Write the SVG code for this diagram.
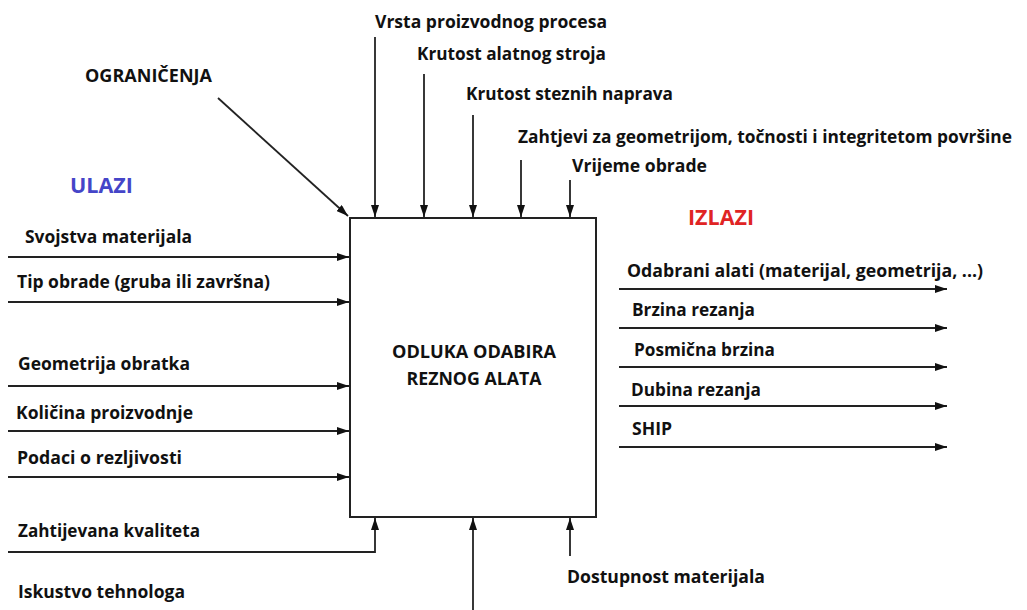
<svg xmlns="http://www.w3.org/2000/svg" width="1027" height="610" viewBox="0 0 1027 610">
<style>
text{font-family:"Open Sans","Liberation Sans",sans-serif;font-weight:bold;font-size:18px;fill:#111}
.ln{stroke:#222;stroke-width:1.8;fill:none}
.box{stroke:#222;stroke-width:2;fill:#fff}
</style>
<defs>
<marker id="ah" viewBox="0 0 12 8" refX="12" refY="4" markerWidth="12" markerHeight="8" markerUnits="userSpaceOnUse" orient="auto">
<path d="M0,0 L12,4 L0,8 Z" fill="#111"/>
</marker>
</defs>
<rect width="1027" height="610" fill="#fff"/>
<g id="connectors">
<line class="ln" x1="218" y1="98" x2="348" y2="216" marker-end="url(#ah)"/>
<line class="ln" x1="375" y1="37" x2="375" y2="217" marker-end="url(#ah)"/>
<line class="ln" x1="424" y1="74" x2="424" y2="217" marker-end="url(#ah)"/>
<line class="ln" x1="473" y1="115" x2="473" y2="217" marker-end="url(#ah)"/>
<line class="ln" x1="521" y1="160" x2="521" y2="217" marker-end="url(#ah)"/>
<line class="ln" x1="570" y1="180" x2="570" y2="217" marker-end="url(#ah)"/>
<line class="ln" x1="8" y1="257" x2="349" y2="257" marker-end="url(#ah)"/>
<line class="ln" x1="8" y1="302" x2="349" y2="302" marker-end="url(#ah)"/>
<line class="ln" x1="8" y1="386" x2="349" y2="386" marker-end="url(#ah)"/>
<line class="ln" x1="8" y1="431" x2="349" y2="431" marker-end="url(#ah)"/>
<line class="ln" x1="8" y1="477" x2="349" y2="477" marker-end="url(#ah)"/>
<polyline class="ln" points="8,552 375,552 375,518" marker-end="url(#ah)"/>
<line class="ln" x1="473" y1="610" x2="473" y2="518" marker-end="url(#ah)"/>
<line class="ln" x1="570" y1="556" x2="570" y2="518" marker-end="url(#ah)"/>
<line class="ln" x1="619" y1="289" x2="947" y2="289" marker-end="url(#ah)"/>
<line class="ln" x1="619" y1="328" x2="947" y2="328" marker-end="url(#ah)"/>
<line class="ln" x1="619" y1="367" x2="947" y2="367" marker-end="url(#ah)"/>
<line class="ln" x1="619" y1="406" x2="947" y2="406" marker-end="url(#ah)"/>
<line class="ln" x1="619" y1="447" x2="947" y2="447" marker-end="url(#ah)"/>
</g>
<g id="process">
<rect class="box" x="350" y="218" width="246" height="299"/>
<text x="474" y="358" text-anchor="middle" textLength="164" lengthAdjust="spacingAndGlyphs">ODLUKA ODABIRA</text>
<text x="474" y="385" text-anchor="middle" textLength="135" lengthAdjust="spacingAndGlyphs">REZNOG ALATA</text>
</g>
<g id="headers">
<text x="85" y="82" textLength="127" lengthAdjust="spacingAndGlyphs">OGRANIČENJA</text>
<text x="70" y="193" style="font-size:21px;fill:#4545c8" textLength="63" lengthAdjust="spacingAndGlyphs">ULAZI</text>
<text x="688" y="225" style="font-size:21px;fill:#e02424" textLength="66" lengthAdjust="spacingAndGlyphs">IZLAZI</text>
</g>
<g id="controls">
<text x="375" y="28" textLength="232" lengthAdjust="spacingAndGlyphs">Vrsta proizvodnog procesa</text>
<text x="417" y="60" textLength="189" lengthAdjust="spacingAndGlyphs">Krutost alatnog stroja</text>
<text x="466" y="100" textLength="207" lengthAdjust="spacingAndGlyphs">Krutost steznih naprava</text>
<text x="518" y="143" style="font-size:17.5px" textLength="494" lengthAdjust="spacingAndGlyphs">Zahtjevi za geometrijom, točnosti i integritetom površine</text>
<text x="572" y="172" textLength="135" lengthAdjust="spacingAndGlyphs">Vrijeme obrade</text>
</g>
<g id="inputs">
<text x="25" y="243" textLength="167" lengthAdjust="spacingAndGlyphs">Svojstva materijala</text>
<text x="17" y="288" textLength="253" lengthAdjust="spacingAndGlyphs">Tip obrade (gruba ili završna)</text>
<text x="18" y="370" textLength="172" lengthAdjust="spacingAndGlyphs">Geometrija obratka</text>
<text x="16" y="419" textLength="177" lengthAdjust="spacingAndGlyphs">Količina proizvodnje</text>
<text x="17" y="464" textLength="165" lengthAdjust="spacingAndGlyphs">Podaci o rezljivosti</text>
</g>
<g id="mechanisms">
<text x="18" y="537" textLength="182" lengthAdjust="spacingAndGlyphs">Zahtijevana kvaliteta</text>
<text x="18" y="598" textLength="167" lengthAdjust="spacingAndGlyphs">Iskustvo tehnologa</text>
<text x="567" y="583" textLength="198" lengthAdjust="spacingAndGlyphs">Dostupnost materijala</text>
</g>
<g id="outputs">
<text x="627" y="277" textLength="356" lengthAdjust="spacingAndGlyphs">Odabrani alati (materijal, geometrija, ...)</text>
<text x="632" y="316" textLength="123" lengthAdjust="spacingAndGlyphs">Brzina rezanja</text>
<text x="634" y="356" textLength="141" lengthAdjust="spacingAndGlyphs">Posmična brzina</text>
<text x="631" y="396" textLength="130" lengthAdjust="spacingAndGlyphs">Dubina rezanja</text>
<text x="632" y="435" textLength="40" lengthAdjust="spacingAndGlyphs">SHIP</text>
</g>
</svg>
